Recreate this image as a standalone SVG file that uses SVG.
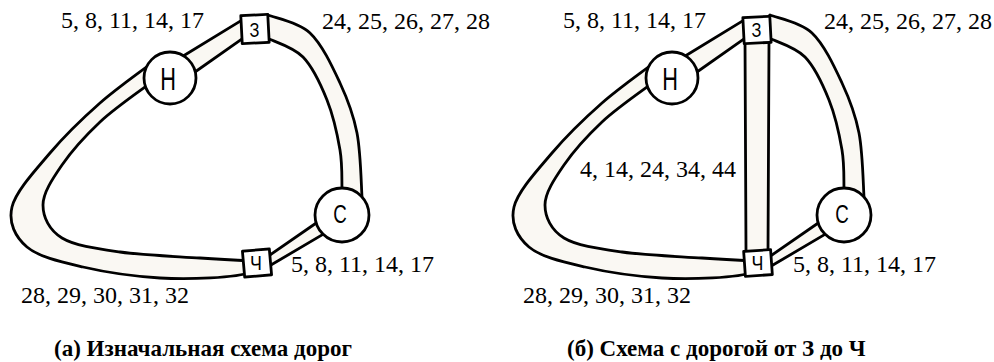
<svg xmlns="http://www.w3.org/2000/svg" xmlns:xlink="http://www.w3.org/1999/xlink" width="994" height="362" viewBox="0 0 994 362">
  <style>
    .road-fill { fill: #faf8f3; stroke: none; }
    .road-edge { fill: none; stroke: #000; stroke-width: 2.8; stroke-linecap: round; stroke-linejoin: round; }
    .town { fill: #fff; stroke: #000; stroke-width: 2.8; }
    .post { fill: #fff; stroke: #000; stroke-width: 2.8; stroke-linejoin: round; }
    .tag { font-family: "Liberation Sans", "DejaVu Sans", sans-serif; fill: #000; text-anchor: middle; }
    .num { font-family: "Liberation Serif", "Times New Roman", "DejaVu Serif", serif; font-size: 24px; fill: #000; }
    .cap { font-family: "Liberation Serif", "Times New Roman", "DejaVu Serif", serif; font-size: 23px; font-weight: bold; fill: #000; }
  </style>
  <defs>
    <!-- road Н–З -->
    <path id="hz-fill" d="M 175,61 L 246,17.6 L 246,36.2 L 185,79 Z"/>
    <path id="hz-edge" d="M 175,61 L 246,17.6 M 185,79 L 246,36.2"/>
    <!-- long road Н–Ч round the left -->
    <path id="hc-fill" d="M 153,62 C 143.3,69.7 117,88 100,103 C 83,118 64.7,135.7 50,153 C 35.3,170.3 15.8,191.3 12,207 C 8.2,222.7 15.2,237 27,247 C 38.8,257 60.8,261.8 83,267 C 105.2,272.2 132.2,276.2 160,278 C 187.8,279.8 236,278 252,272 L 252,261 C 241.7,260.5 221.7,259.5 200,258 C 178.3,256.5 143,255.3 120,252 C 97,248.7 74.8,245.8 62,238 C 49.2,230.2 43,217.2 43,205 C 43,192.8 52.5,178.8 62,165 C 71.5,151.2 86,135.2 100,122 C 114,108.8 138.3,92 152,82 Z"/>
    <path id="hc-edge" d="M 153,62 C 143.3,69.7 117,88 100,103 C 83,118 64.7,135.7 50,153 C 35.3,170.3 15.8,191.3 12,207 C 8.2,222.7 15.2,237 27,247 C 38.8,257 60.8,261.8 83,267 C 105.2,272.2 132.2,276.2 160,278 C 187.8,279.8 236,278 252,272 M 252,261 C 241.7,260.5 221.7,259.5 200,258 C 178.3,256.5 143,255.3 120,252 C 97,248.7 74.8,245.8 62,238 C 49.2,230.2 43,217.2 43,205 C 43,192.8 52.5,178.8 62,165 C 71.5,151.2 86,135.2 100,122 C 114,108.8 138.3,92 152,82"/>
    <!-- long road З–С round the right -->
    <path id="zc-fill" d="M 262,22 L 268,15 C 275,18 298,21.7 310,33 C 322,44.3 332.2,66.3 340,83 C 347.8,99.7 353.3,114 357,133 C 360.7,152 361.2,184.2 362,197 L 362,212 L 342,212 L 342,188 C 341.7,181.7 342.5,164.7 340,150 C 337.5,135.3 333.2,115.5 327,100 C 320.8,84.5 313,67.3 303,57 C 293,46.7 273,41.2 267,38 L 260,36 Z"/>
    <path id="zc-edge" d="M 262,22 L 268,15 C 275,18 298,21.7 310,33 C 322,44.3 332.2,66.3 340,83 C 347.8,99.7 353.3,114 357,133 C 360.7,152 361.2,184.2 362,197 L 362,212 M 342,212 L 342,188 C 341.7,181.7 342.5,164.7 340,150 C 337.5,135.3 333.2,115.5 327,100 C 320.8,84.5 313,67.3 303,57 C 293,46.7 273,41.2 267,38 L 260,36"/>
    <!-- road С–Ч -->
    <path id="cc-fill" d="M 262,260.5 L 322,219 L 328,231.4 L 262,270.3 Z"/>
    <path id="cc-edge" d="M 262,260.5 L 322,219 M 262,270.3 L 328,231.4"/>
  </defs>

  <!-- (а) initial road layout -->
  <g id="scheme-a">
    <g id="roads-a">
      <use xlink:href="#hz-fill" class="road-fill"/><use xlink:href="#hz-edge" class="road-edge"/>
      <use xlink:href="#hc-fill" class="road-fill"/><use xlink:href="#hc-edge" class="road-edge"/>
      <use xlink:href="#zc-fill" class="road-fill"/><use xlink:href="#zc-edge" class="road-edge"/>
      <use xlink:href="#cc-fill" class="road-fill"/><use xlink:href="#cc-edge" class="road-edge"/>
    </g>
    <g id="a-node-N">
      <circle class="town" cx="170" cy="78" r="26"/>
      <text class="tag" font-size="32" transform="translate(168,90) scale(0.68,1)">Н</text>
    </g>
    <g id="a-node-Z">
      <rect class="post" x="-13.5" y="-14" width="27" height="28" transform="translate(255,29) rotate(-3)"/>
      <text class="tag" font-size="21" transform="translate(254.5,37) scale(0.78,1)">З</text>
    </g>
    <g id="a-node-S">
      <circle class="town" cx="342" cy="215" r="27"/>
      <text class="tag" font-size="25" transform="translate(340,223) scale(0.75,1)">С</text>
    </g>
    <g id="a-node-Ch">
      <rect class="post" x="-13.5" y="-13" width="27" height="26" transform="translate(257,263) rotate(-5)"/>
      <text class="tag" font-size="21" transform="translate(256,270) scale(0.85,1)">Ч</text>
    </g>
    <text class="num" x="61" y="28">5, 8, 11, 14, 17</text>
    <text class="num" x="322" y="29">24, 25, 26, 27, 28</text>
    <text class="num" x="291" y="272">5, 8, 11, 14, 17</text>
    <text class="num" x="21" y="303">28, 29, 30, 31, 32</text>
    <text class="cap" x="54" y="356">(а) Изначальная схема дорог</text>
  </g>

  <!-- (б) layout with the extra road from З to Ч -->
  <g id="scheme-b" transform="translate(502,0)">
    <g id="roads-b">
      <use xlink:href="#hz-fill" class="road-fill"/><use xlink:href="#hz-edge" class="road-edge"/>
      <use xlink:href="#hc-fill" class="road-fill"/><use xlink:href="#hc-edge" class="road-edge"/>
      <use xlink:href="#zc-fill" class="road-fill"/><use xlink:href="#zc-edge" class="road-edge"/>
      <use xlink:href="#cc-fill" class="road-fill"/><use xlink:href="#cc-edge" class="road-edge"/>
      <rect class="road-fill" x="243" y="38" width="24" height="216"/>
      <path class="road-edge" d="M 243,40 L 244,252 M 267,40 L 266,252"/>
    </g>
    <g id="b-node-N">
      <circle class="town" cx="170" cy="78" r="26"/>
      <text class="tag" font-size="32" transform="translate(168,90) scale(0.68,1)">Н</text>
    </g>
    <g id="b-node-Z">
      <rect class="post" x="-13.5" y="-13" width="27" height="26" transform="translate(255,30) rotate(-3)"/>
      <text class="tag" font-size="21" transform="translate(254.5,37) scale(0.78,1)">З</text>
    </g>
    <g id="b-node-S">
      <circle class="town" cx="342" cy="215" r="27"/>
      <text class="tag" font-size="25" transform="translate(340,223) scale(0.75,1)">С</text>
    </g>
    <g id="b-node-Ch">
      <rect class="post" x="-13.5" y="-12.5" width="27" height="25" transform="translate(256,263) rotate(-4)"/>
      <text class="tag" font-size="21" transform="translate(255.5,270) scale(0.85,1)">Ч</text>
    </g>
    <text class="num" x="61" y="28">5, 8, 11, 14, 17</text>
    <text class="num" x="322" y="29">24, 25, 26, 27, 28</text>
    <text class="num" x="78" y="177">4, 14, 24, 34, 44</text>
    <text class="num" x="291" y="272">5, 8, 11, 14, 17</text>
    <text class="num" x="21" y="303">28, 29, 30, 31, 32</text>
    <text class="cap" x="65" y="356">(б) Схема с дорогой от З до Ч</text>
  </g>
</svg>
